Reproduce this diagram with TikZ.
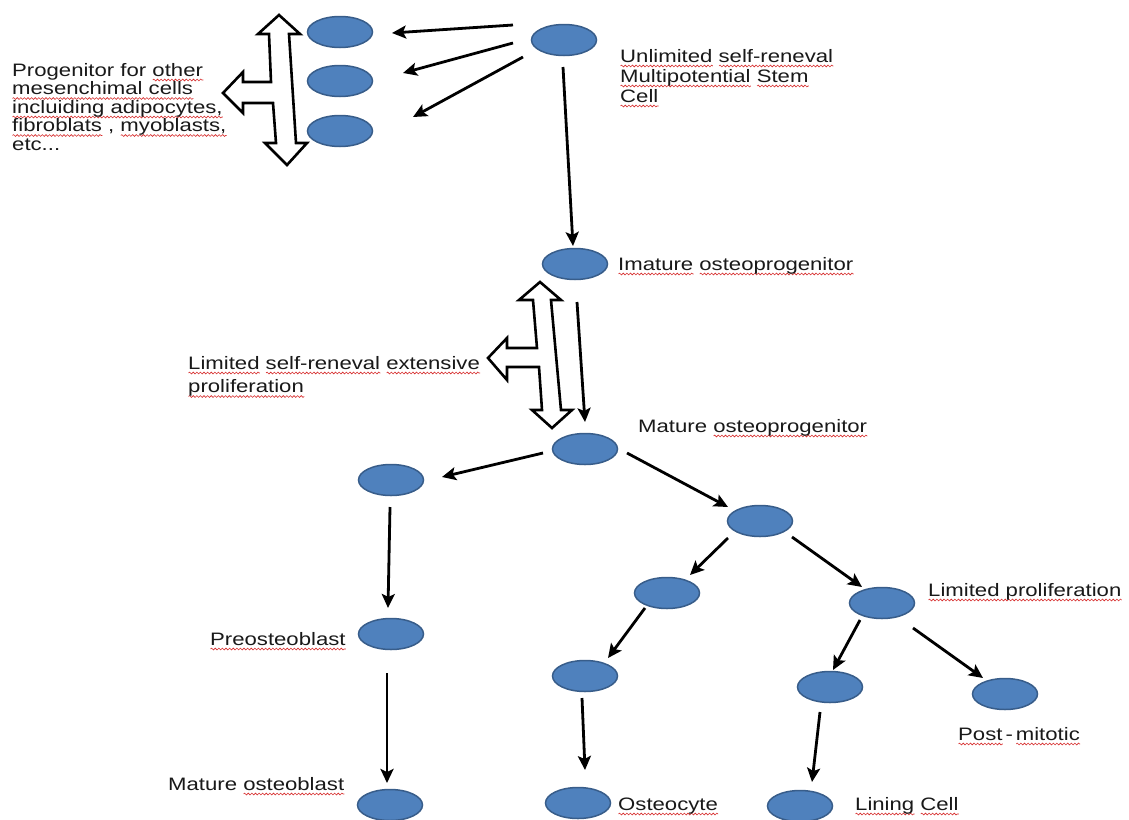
\documentclass[tikz,border=0pt]{standalone}
\usepackage{fontspec}
\setmainfont{Liberation Sans}[FakeStretch=1.23]
\usetikzlibrary{arrows.meta,calc,shapes.geometric,decorations.pathmorphing}
\definecolor{cellfill}{RGB}{79,129,189}
\definecolor{celldraw}{RGB}{56,93,138}
\definecolor{squig}{RGB}{215,45,45}
\definecolor{txt}{RGB}{25,25,25}
\newsavebox\sqbox
\newlength\sqlen
\newcommand\sq[1]{\sbox\sqbox{#1}\setlength\sqlen{\wd\sqbox}\leavevmode\rlap{\tikz[baseline=0pt]\draw[squig, line width=0.6pt, decorate, decoration={snake,amplitude=0.9pt,segment length=3.6pt}] (0pt,-4pt) -- (\sqlen,-4pt);}\usebox\sqbox}
\tikzset{
  cell/.style={ellipse, fill=cellfill, draw=celldraw, line width=1.5pt,
    minimum width=65pt, minimum height=31pt, inner sep=0pt},
  arr/.style={line width=2.8pt, draw=black,
    -{Stealth[length=14pt,width=13pt,inset=3pt]}},
  lbl/.style={anchor=base west, inner sep=0pt, text=txt, align=left,
    font=\fontsize{18}{18.5}\selectfont},
  blockarrow/.style={draw=black, fill=white, line width=2.6pt, line join=miter},
}
\begin{document}
\begin{tikzpicture}[x=1pt,y=-1pt]
\useasboundingbox[fill=white] (0,0) rectangle (1129,819);

% cells
\node[cell] (p1)   at (340,32) {};
\node[cell] (p2)   at (340,81) {};
\node[cell] (p3)   at (340,131) {};
\node[cell] (stem) at (564,40) {};
\node[cell] (imm)  at (575,264) {};
\node[cell] (mat)  at (585,449) {};
\node[cell] (L1)   at (391,480) {};
\node[cell] (R1)   at (760,521) {};
\node[cell] (R2a)  at (667,593) {};
\node[cell] (R2b)  at (882,603) {};
\node[cell] (pre)  at (391,634) {};
\node[cell] (R3a)  at (585,676) {};
\node[cell] (R3b)  at (830,687) {};
\node[cell] (pm)   at (1005,694) {};
\node[cell] (mob)  at (390,805) {};
\node[cell] (ost)  at (578,803) {};
\node[cell] (lin)  at (800,806) {};

% connectors
\draw[arr] ($(stem)+(-51,-15)$) -- ($(p1)+(52,1)$);
\draw[arr] ($(stem)+(-51,3)$) -- ($(p2)+(63,-8)$);
\draw[arr] ($(stem)+(-41,17)$) -- ($(p3)+(73,-14)$);
\draw[arr] ($(stem)+(-1,27)$) -- ($(imm)+(-2,-18)$);
\draw[arr] ($(imm)+(2,38)$) -- ($(mat)+(0,-27)$);
\draw[arr] ($(mat)+(-42,4)$) -- ($(L1)+(51,-3)$);
\draw[arr] ($(mat)+(42,4)$) -- ($(R1)+(-32,-14)$);
\draw[arr] ($(R1)+(-32,17)$) -- ($(R2a)+(23,-18)$);
\draw[arr] ($(R1)+(32,16)$) -- ($(R2b)+(-20,-16)$);
\draw[arr] ($(R2a)+(-22,15)$) -- ($(R3a)+(23,-18)$);
\draw[arr] ($(R2b)+(-22,17)$) -- ($(R3b)+(3,-17)$);
\draw[arr] ($(R2b)+(31,25)$) -- ($(pm)+(-22,-16)$);
\draw[arr] ($(L1)+(-1,27)$) -- ($(pre)+(-3,-26)$);
\draw[arr] ($(pre)+(-4,39)$) -- ($(mob)+(-3,-22)$);
\draw[arr] ($(R3a)+(-3,22)$) -- ($(ost)+(7,-33)$);
\draw[arr] ($(R3b)+(-10,25)$) -- ($(lin)+(12,-24)$);

% block arrows (three-way)
\draw[blockarrow] (279,15) -- (300,34) -- (289,34) -- (296,143) -- (307,143)
  -- (287,165) -- (265,143) -- (276,143) -- (273,103) -- (243,103) -- (243,113)
  -- (223,93) -- (243,72) -- (243,82) -- (271,82) -- (269,34) -- (258,34) -- cycle;
\draw[blockarrow] (540,282) -- (561,300) -- (551,300) -- (561,410) -- (572,410)
  -- (552,428) -- (532,410) -- (542,410) -- (539,367) -- (507,367) -- (507,380)
  -- (488,358) -- (507,338) -- (507,348) -- (537,348) -- (533,300) -- (519,300) -- cycle;

% labels (multi-line nodes: base = last line)
\node[lbl] (tl) at (12,150) {Progenitor for \sq{other}\\\sq{mesenchimal cells}\\\sq{incluiding adipocytes,}\\\sq{fibroblats} , \sq{myoblasts,}\\etc...};
\node[lbl, font=\fontsize{18}{20}\selectfont] (tr) at (620,102) {\sq{Unlimited} \sq{self-reneval}\\\sq{Multipotential} \sq{Stem}\\\sq{Cell}};
\node[lbl] (timm) at (618,270) {\sq{Imature} \sq{osteoprogenitor}};
\node[lbl, font=\fontsize{18}{23.5}\selectfont] (tlsr) at (188,392.5) {\sq{Limited} \sq{self-reneval} \sq{extensive}\\\sq{proliferation}};
\node[lbl] (tmat) at (638,432) {Mature \sq{osteoprogenitor}};
\node[lbl] (tlp) at (928,596) {\sq{Limited proliferation}};
\node[lbl] (tpre) at (210,645) {\sq{Preosteoblast}};
\node[lbl] (tpm) at (958,740) {\sq{Post}\,-\,\sq{mitotic}};
\node[lbl] (tmob) at (168,790) {Mature \sq{osteoblast}};
\node[lbl] (tost) at (618,810) {\sq{Osteocyte}};
\node[lbl] (tlin) at (855,810) {\sq{Lining} \sq{Cell}};
\end{tikzpicture}
\end{document}
